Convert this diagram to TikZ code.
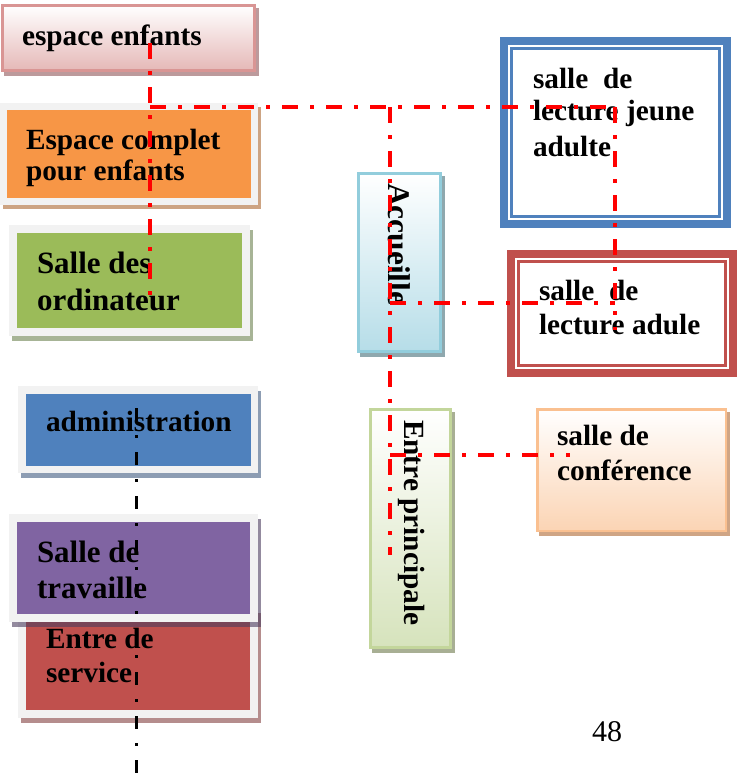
\documentclass[tikz,border=0pt]{standalone}
\usepackage{fontspec}
\setmainfont{Liberation Serif}
\usetikzlibrary{fit}
\definecolor{cPinkLine}{HTML}{D99594}
\definecolor{cPinkB}{HTML}{E5B8B7}
\definecolor{cPinkSh}{HTML}{BC9A9C}
\definecolor{cFrame}{HTML}{F2F2F2}
\definecolor{cOrange}{HTML}{F79646}
\definecolor{cOrangeSh}{HTML}{CDA483}
\definecolor{cGreen}{HTML}{9BBB59}
\definecolor{cGreenSh}{HTML}{A7B496}
\definecolor{cBlue}{HTML}{4F81BD}
\definecolor{cBlueSh}{HTML}{8D9DB3}
\definecolor{cPurple}{HTML}{8064A2}
\definecolor{cPurpleSh}{HTML}{4B3C5E}
\definecolor{cRed}{HTML}{C0504D}
\definecolor{cRedSh}{HTML}{B58D8D}
\definecolor{cAccLine}{HTML}{92CDDC}
\definecolor{cAccB}{HTML}{B6DDE8}
\definecolor{cAccSh}{HTML}{8FA8AE}
\definecolor{cEntLine}{HTML}{C3D69B}
\definecolor{cEntB}{HTML}{D6E3BC}
\definecolor{cEntSh}{HTML}{A8AF94}
\definecolor{cConfLine}{HTML}{FAC090}
\definecolor{cConfB}{HTML}{FBD4B4}
\definecolor{cConfSh}{HTML}{CFA585}
\definecolor{cLink}{HTML}{FF0000}
\tikzset{
  box/.style={rectangle, inner sep=0pt, outer sep=0pt},
  framebox/.style={box, draw=cFrame, line width=#1},
  lbl/.style={inner sep=0pt, outer sep=0pt, anchor=base west, align=left,
    font=\bfseries\fontsize{29.3}{34}\selectfont},
  vlbl/.style={inner sep=0pt, outer sep=0pt, anchor=west, rotate=-90,
    font=\bfseries\fontsize{29.3}{34}\selectfont},
  redlink/.style={draw=cLink, line width=4pt, dash pattern=on 16pt off 12pt on 4pt off 12pt},
  blacklink/.style={draw=black, line width=3pt, dash pattern=on 13pt off 14pt on 3pt off 14pt},
}
\begin{document}
\begin{tikzpicture}[x=1pt,y=-1pt]
\useasboundingbox (0,0) rectangle (738,774);
% ---- left column ----
\fill[cPinkSh] (4,8) rectangle (259,76);
\node[box, draw=cPinkLine, line width=3pt, top color=white, bottom color=cPinkB,
  fit={(2.5,5.5) (254.5,70.5)}] (enf) {};
\node[lbl] (tenf) at (22,45) {espace enfants};

\fill[cOrangeSh] (3,107) rectangle (261,209);
\node[framebox=7pt, fill=cOrange, fit={(3.5,106.5) (254.5,201.5)}] (comp) {};
\node[lbl, font=\bfseries\fontsize{29.3}{31}\selectfont] (tcomp) at (26,180) {Espace complet\\pour enfants};

\fill[cGreenSh] (12,230) rectangle (253,341);
\node[framebox=8pt, fill=cGreen, fit={(13,229) (246,332)}] (ord) {};
\node[lbl, font=\bfseries\fontsize{31}{37}\selectfont] (tord) at (37,310) {Salle des\\ordinateur};

\fill[cBlueSh] (21,391) rectangle (261,478);
\node[framebox=7.5pt, fill=cBlue, fit={(21.75,389.75) (254.25,469.25)}] (admin) {};
\node[lbl] (tadmin) at (46,431) {administration};

\fill[cRedSh] (21,613) rectangle (261,723);
\node[framebox=8pt, fill=cRed, fit={(22,612) (254,714)}] (serv) {};
\node[lbl] (tserv) at (46,682) {Entre de\\service};

\fill[cPurpleSh, opacity=0.6] (12,519) rectangle (261,627);
\node[framebox=8pt, fill=cPurple, fit={(13,518) (254,618)}] (trav) {};
\node[lbl, font=\bfseries\fontsize{31}{36}\selectfont] (ttrav) at (37,598) {Salle de\\travaille};

% ---- middle column ----
\fill[cAccSh] (360,176) rectangle (445,357);
\node[box, draw=cAccLine, line width=3pt, top color=white, bottom color=cAccB,
  fit={(358.5,173.5) (440.5,351.5)}] (acc) {};
\node[vlbl, font=\bfseries\fontsize{31.5}{34}\selectfont] (tacc) at (399,183) {Accueille};

\fill[cEntSh] (372,412) rectangle (455,653);
\node[box, draw=cEntLine, line width=3pt, top color=white, bottom color=cEntB,
  fit={(370.5,409.5) (450.5,647.5)}] (entp) {};
\node[vlbl] (tentp) at (412,420) {Entre principale};

% ---- right column ----
\node[box, draw=cBlue, line width=8pt, fill=white, fit={(504,41) (727,224)}] (jeune) {};
\draw[cBlue, line width=2.5pt] (511.5,48.5) rectangle (719.5,216.5);
\node[lbl] (tjeune) at (533,156) {salle\ \ de\\[-2pt]lecture jeune\\[2pt]adulte};

\node[box, draw=cRed, line width=8pt, fill=white, fit={(511,254) (733,373)}] (adul) {};
\draw[cRed, line width=2.5pt] (518.5,261.5) rectangle (725.5,365.5);
\node[lbl] (tadul) at (539,334) {salle\ \ de\\lecture adule};

\fill[cConfSh] (539,412) rectangle (730,536);
\node[box, draw=cConfLine, line width=2.5pt, top color=white, bottom color=cConfB,
  fit={(537.25,409.25) (725.75,530.75)}] (conf) {};
\node[lbl, font=\bfseries\fontsize{29.3}{35}\selectfont] (tconf) at (557,480) {salle de\\conférence};

\node[inner sep=0pt, anchor=base west, font=\fontsize{30}{34}\selectfont] (page) at (592,741) {48};

% ---- connectors ----
\coordinate (r1) at (150,43);
\coordinate (r2) at (150,295);
\coordinate (h1) at (150,107);
\coordinate (h2) at (615,107);
\coordinate (v1) at (615,330);
\coordinate (a1) at (390,107);
\coordinate (a2) at (390,555);
\coordinate (b1) at (390,303);
\coordinate (b2) at (615,303);
\coordinate (c1) at (390,455);
\coordinate (c2) at (570,455);
\coordinate (k1) at (136,408);
\coordinate (k2) at (136,774);
\draw[redlink] (r1) -- (r2);
\draw[redlink] (h1) -- (h2);
\draw[redlink] (h2) -- (v1);
\draw[redlink] (a1) -- (a2);
\draw[redlink] (b1) -- (b2);
\draw[redlink] (c1) -- (c2);
\draw[blacklink] (k1) -- (k2);
\end{tikzpicture}
\end{document}
